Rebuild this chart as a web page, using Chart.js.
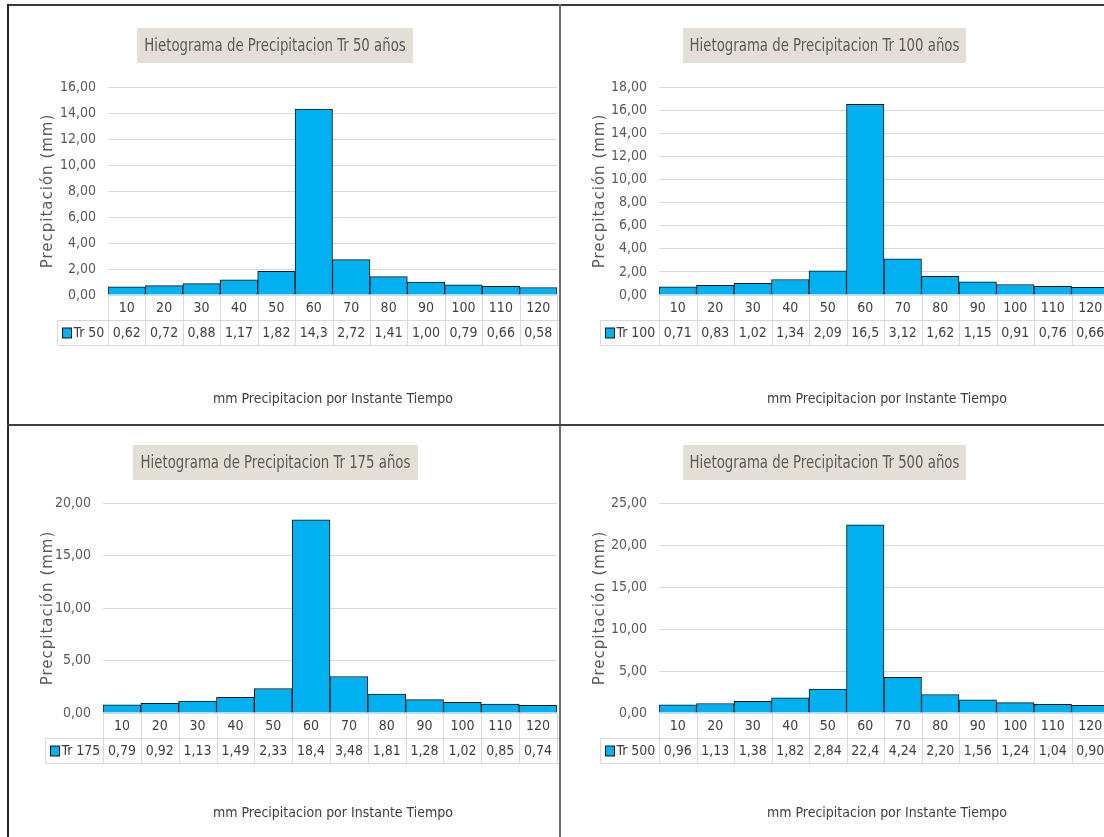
<!DOCTYPE html>
<html>
<head>
<meta charset="utf-8">
<script src="https://cdn.jsdelivr.net/npm/chart.js@4"></script>
<style>
  html, body { margin: 0; padding: 0; background: #fff; width: 1104px; height: 837px; overflow: hidden; }
  #page { position: relative; width: 1104px; height: 837px; overflow: hidden; background: #fff; }
  .panel { position: absolute; overflow: hidden; }
  .panel canvas { display: block; }
  .rule { position: absolute; }
</style>
</head>
<body>
<div id="page">
  <div class="panel" style="left:8px;top:6px;width:551px;height:418px"><canvas id="c0" width="553" height="419"></canvas></div>
  <div class="panel" style="left:561px;top:6px;width:543px;height:418px"><canvas id="c1" width="553" height="419"></canvas></div>
  <div class="panel" style="left:8px;top:426px;width:551px;height:411px"><canvas id="c2" width="553" height="411"></canvas></div>
  <div class="panel" style="left:561px;top:426px;width:543px;height:411px"><canvas id="c3" width="553" height="411"></canvas></div>

  <div class="rule" style="left:7px;top:4px;width:1097px;height:2px;background:#3b3b3b"></div>
  <div class="rule" style="left:7px;top:4px;width:2px;height:833px;background:#262626"></div>
  <div class="rule" style="left:559px;top:4px;width:2px;height:833px;background:#6f6f6f"></div>
  <div class="rule" style="left:7px;top:424px;width:1097px;height:2px;background:#404040"></div>
</div>
<script>
// Time steps (minutes) shared by all four hyetographs
const categories = [10, 20, 30, 40, 50, 60, 70, 80, 90, 100, 110, 120];

// Precipitation depth per time step (mm) for each return period
const tr50  = [0.62, 0.72, 0.88, 1.17, 1.82, 14.3, 2.72, 1.41, 1.00, 0.79, 0.66, 0.58];
const tr100 = [0.71, 0.83, 1.02, 1.34, 2.09, 16.5, 3.12, 1.62, 1.15, 0.91, 0.76, 0.66];
const tr175 = [0.79, 0.92, 1.13, 1.49, 2.33, 18.4, 3.48, 1.81, 1.28, 1.02, 0.85, 0.74];
const tr500 = [0.96, 1.13, 1.38, 1.82, 2.84, 22.4, 4.24, 2.20, 1.56, 1.24, 1.04, 0.90];

const seriesNames = ['Tr 50', 'Tr 100', 'Tr 175', 'Tr 500'];
const chartTitles = [
  'Hietograma de Precipitacion Tr 50 años',
  'Hietograma de Precipitacion Tr 100 años',
  'Hietograma de Precipitacion Tr 175 años',
  'Hietograma de Precipitacion Tr 500 años'
];
const yMaxima = [16, 18, 20, 25];
const yStepSizes = [2, 2, 5, 5];
const yAxisTitle = 'Precpitación (mm)';
const xAxisTitle = 'mm Precipitacion por Instante Tiempo';

const seriesValues = [tr50, tr100, tr175, tr500];

// ---- styling / layout ----
const NARROW = "'Liberation Sans Narrow', 'DejaVu Sans Condensed', 'Arial Narrow', sans-serif";
const WIDE = "'DejaVu Sans', Verdana, sans-serif";
const BAR_FILL = '#00b0f0';
const BAR_EDGE = '#141414';
const GRID = '#d9d9d9';
const Y_AXIS_W = 60;
const ROW_H = 25;

// Per-panel geometry in canvas pixels
const panels = [
  { id: 'c0', w: 553, h: 419, area: { l: 100, r: 549, t: 81, b: 289 }, box: { x: 129, y: 22, w: 276, h: 35 }, yTitleX: 40, xTitle: { x: 325, y: 393 }, legendLeft: 49 },
  { id: 'c1', w: 553, h: 419, area: { l: 98,  r: 548, t: 81, b: 289 }, box: { x: 122, y: 22, w: 283, h: 35 }, yTitleX: 39, xTitle: { x: 326, y: 393 }, legendLeft: 39 },
  { id: 'c2', w: 553, h: 411, area: { l: 95,  r: 549, t: 77, b: 287 }, box: { x: 125, y: 19, w: 285, h: 35 }, yTitleX: 40, xTitle: { x: 325, y: 387 }, legendLeft: 37 },
  { id: 'c3', w: 553, h: 411, area: { l: 98,  r: 548, t: 77, b: 287 }, box: { x: 122, y: 19, w: 283, h: 35 }, yTitleX: 39, xTitle: { x: 326, y: 387 }, legendLeft: 39 }
];

const fmtAxis = v => Number(v).toFixed(2).replace('.', ',');
const fmtCell = v => (v >= 10 ? v.toFixed(1) : v.toFixed(2)).replace('.', ',');

// centred text squeezed horizontally to a narrower face
function squeezedText(c, text, x, y, font, sx) {
  c.save();
  c.translate(x, y);
  c.scale(sx, 1);
  c.font = font;
  c.textAlign = 'center';
  c.textBaseline = 'middle';
  c.fillText(text, 0, 0);
  c.restore();
}

function decorations(p, i) {
  return {
    id: 'hyetoDecor' + i,
    beforeDraw(chart) {
      const c = chart.ctx;
      c.save();
      // title plate
      c.fillStyle = '#e4dfd6';
      c.fillRect(p.box.x, p.box.y, p.box.w, p.box.h);
      c.fillStyle = '#595959';
      squeezedText(c, chartTitles[i], p.box.x + p.box.w / 2, p.box.y + p.box.h / 2 + 1, '17px ' + NARROW, 0.87);
      // vertical axis title
      const a = chart.chartArea;
      c.translate(p.yTitleX, (a.top + a.bottom) / 2);
      c.rotate(-Math.PI / 2);
      c.font = '15px ' + WIDE;
      c.letterSpacing = '1px';
      c.textAlign = 'center';
      c.textBaseline = 'middle';
      c.fillStyle = '#595959';
      c.fillText(yAxisTitle, 0, 0);
      c.restore();
    },
    afterDraw(chart) {
      const c = chart.ctx;
      const a = chart.chartArea;
      const xs = chart.scales.x;
      const n = categories.length;
      const half = (a.right - a.left) / n / 2;
      const top = a.bottom, r1 = top + ROW_H, r2 = top + 2 * ROW_H;
      c.save();
      c.strokeStyle = GRID;
      c.lineWidth = 1;
      c.beginPath();
      // cell boundaries
      for (let k = 0; k <= n; k++) {
        const x = Math.round(k < n ? xs.getPixelForValue(k) - half : xs.getPixelForValue(n - 1) + half) + 0.5;
        c.moveTo(x, top);
        c.lineTo(x, r2);
      }
      const lx = p.legendLeft + 0.5;
      c.moveTo(lx, r1); c.lineTo(lx, r2);
      c.moveTo(lx, r1 + 0.5); c.lineTo(a.right + 4, r1 + 0.5);
      c.moveTo(lx, r2 + 0.5); c.lineTo(a.right + 4, r2 + 0.5);
      c.stroke();

      c.fillStyle = '#404040';
      c.font = '14px ' + NARROW;
      c.textAlign = 'center';
      c.textBaseline = 'middle';
      const vals = seriesValues[i];
      categories.forEach((cat, k) => {
        const x = xs.getPixelForValue(k);
        c.fillText(String(cat), x, top + ROW_H / 2 + 1);
        c.fillText(fmtCell(vals[k]), x, r1 + ROW_H / 2 + 1);
      });
      // legend key in the data table
      c.fillStyle = BAR_FILL;
      c.fillRect(lx + 5, r1 + 8, 9, 10);
      c.strokeStyle = BAR_EDGE;
      c.strokeRect(lx + 5, r1 + 8, 9, 10);
      c.fillStyle = '#404040';
      c.textAlign = 'left';
      c.fillText(seriesNames[i], lx + 16, r1 + ROW_H / 2 + 1);
      // horizontal axis title
      c.textAlign = 'center';
      c.font = '14px ' + NARROW;
      c.fillText(xAxisTitle, p.xTitle.x, p.xTitle.y);
      c.restore();
    }
  };
}

panels.forEach((p, i) => {
  new Chart(document.getElementById(p.id), {
    type: 'bar',
    data: {
      labels: categories.map(String),
      datasets: [{
        label: seriesNames[i],
        data: seriesValues[i],
        backgroundColor: BAR_FILL,
        borderColor: BAR_EDGE,
        borderWidth: 1,
        barPercentage: 1,
        categoryPercentage: 1
      }]
    },
    options: {
      responsive: false,
      animation: false,
      devicePixelRatio: 1,
      layout: {
        padding: {
          left: p.area.l - Y_AXIS_W,
          right: p.w - p.area.r,
          top: p.area.t,
          bottom: p.h - p.area.b
        }
      },
      plugins: {
        legend: { display: false },
        title: { display: false },
        tooltip: { enabled: false }
      },
      scales: {
        x: { display: false },
        y: {
          min: 0,
          max: yMaxima[i],
          afterFit: s => { s.width = Y_AXIS_W; },
          ticks: {
            stepSize: yStepSizes[i],
            padding: 12,
            color: '#595959',
            font: { family: NARROW, size: 14 },
            callback: v => fmtAxis(v)
          },
          grid: { color: GRID, drawTicks: false },
          border: { display: false }
        }
      }
    },
    plugins: [decorations(p, i)]
  });
});
</script>
</body>
</html>
